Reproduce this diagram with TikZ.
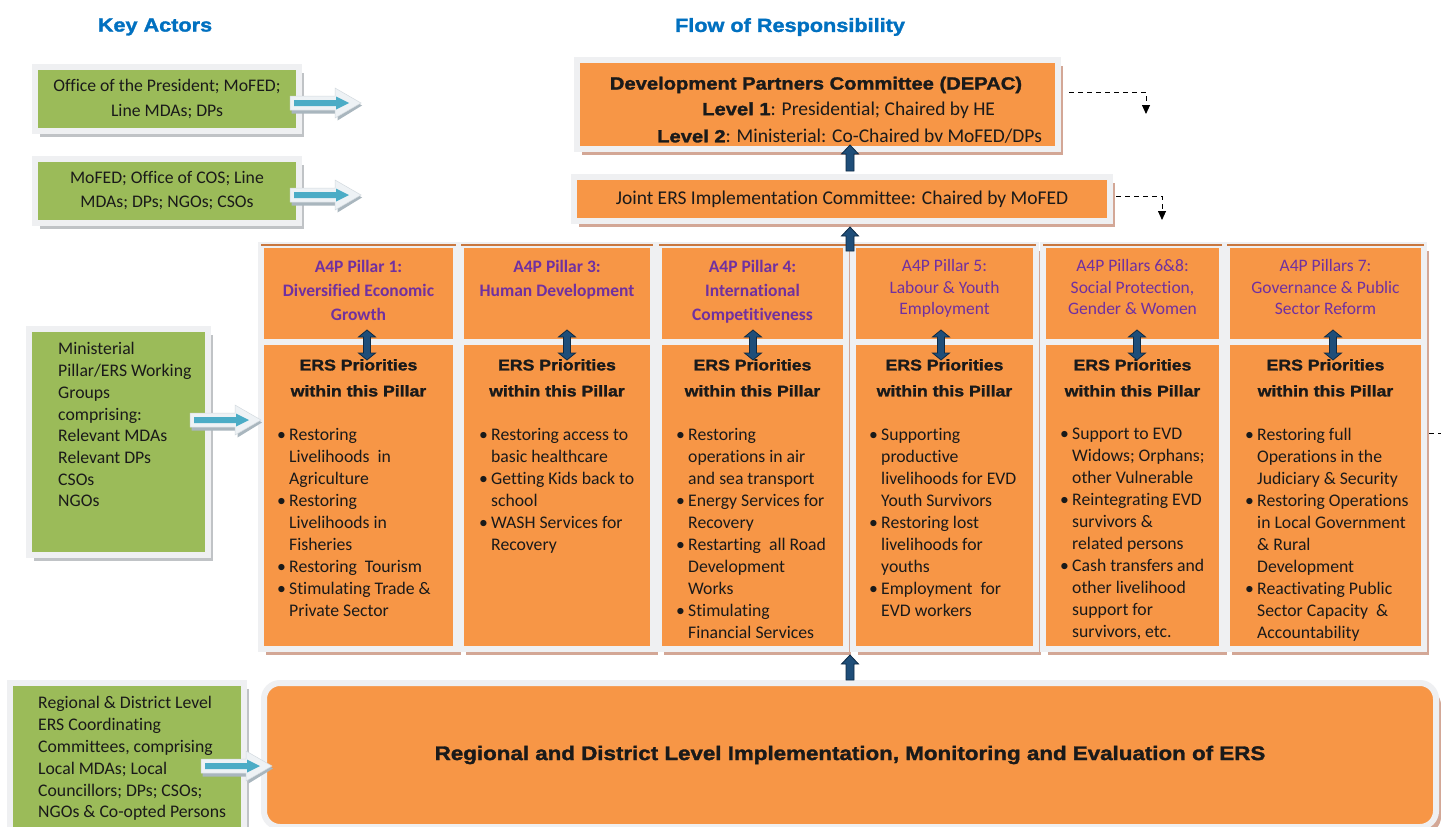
\documentclass[tikz,border=0pt]{standalone}
\usepackage{fontspec}
\setmainfont{Carlito}[Ligatures=NoCommon]
\newfontfamily\blk{Liberation Sans}[FakeStretch=1.14, FakeBold=1.6]
\usetikzlibrary{shadows,arrows.meta,calc}
\definecolor{orng}{HTML}{F79646}
\definecolor{grn}{HTML}{9BBB59}
\definecolor{purp}{HTML}{7030A0}
\definecolor{ttl}{HTML}{0070C0}
\definecolor{arrblue}{HTML}{1F4E79}
\definecolor{arrline}{HTML}{0D2A45}
\definecolor{cyanarr}{HTML}{4BACC6}
\definecolor{actwhite}{HTML}{EEF2F5}
\definecolor{actedge}{HTML}{D3DADF}
\definecolor{actshd}{HTML}{A9B6BE}
\definecolor{frm}{HTML}{EFF0F2}
\definecolor{tanshd}{HTML}{D3A796}
\definecolor{grayshd}{HTML}{C0C3C6}
\definecolor{topbrn}{HTML}{C8773F}
\definecolor{txtc}{HTML}{1A1A1A}
\newcommand\bi{\makebox[12pt][l]{\textbullet}}
\newcommand\ci{\hspace*{12pt}}
\tikzset{
  framebox/.style={rectangle, draw=frm, line width=6pt, inner sep=0pt},
  obox/.style={framebox, fill=orng, general shadow={fill=tanshd, shadow xshift=5pt, shadow yshift=-6pt}},
  gbox/.style={framebox, fill=grn, general shadow={fill=grayshd, shadow xshift=5pt, shadow yshift=-6pt}},
  bodytxt/.style={inner sep=0pt, text=txtc, font=\fontsize{17.7}{22}\selectfont, align=left, anchor=north west},
  hdrb/.style={inner sep=0pt, text=purp, font=\bfseries\fontsize{17.5}{24}\selectfont, align=center, anchor=north},
  hdrr/.style={inner sep=0pt, text=purp, font=\fontsize{17.5}{21.5}\selectfont, align=center, anchor=north},
  erst/.style={inner sep=0pt, text=txtc, font=\blk\bfseries\fontsize{15.5}{26}\selectfont, align=center, anchor=north},
  titletxt/.style={inner sep=0pt, text=ttl, font=\blk\bfseries\fontsize{19}{22}\selectfont},
  dashconn/.style={draw=black, line width=0.9pt, dash pattern=on 5pt off 4pt, -{Triangle[width=8pt,length=9pt]}},
  topln/.style={draw=topbrn, line width=2pt},
  arrstyle/.style={fill=arrblue, draw=arrline, line width=0.8pt},
  pics/uparr/.style={code={\filldraw[arrstyle] (-4,0) -- (-4,9-#1) -- (-8.5,9-#1) -- (0,-#1) -- (8.5,9-#1) -- (4,9-#1) -- (4,0) -- cycle;}},
  pics/dblarr/.style={code={\filldraw[arrstyle] (0,-15) -- (8.5,-8) -- (3.5,-8) -- (3.5,8) -- (8.5,8) -- (0,15) -- (-8.5,8) -- (-3.5,8) -- (-3.5,-8) -- (-8.5,-8) -- cycle;}},
  pics/actarr/.style={code={
    \fill[actshd] (1.5,-4.5) -- (47.5,-4.5) -- (47.5,-12.5) -- (72,2.5) -- (47.5,17.5) -- (47.5,10.5) -- (1.5,10.5) -- cycle;
    \filldraw[fill=actwhite, draw=actedge, line width=0.5pt] (0,-7) -- (45,-7) -- (45,-15) -- (71,0) -- (45,15) -- (45,7) -- (0,7) -- cycle;
    \fill[cyanarr] (4,-3) -- (46,-3) -- (46,-6.5) -- (59,0) -- (46,6.5) -- (46,3) -- (4,3) -- cycle;}}
}
\begin{document}
\begin{tikzpicture}[x=1pt,y=-1pt]
\useasboundingbox (0,0) rectangle (1441,827);
\fill[white] (0,0) rectangle (1441,827);

% titles
\node[titletxt] (tka) at (155,27) {Key Actors};
\node[titletxt] (tfr) at (790,27) {Flow of Responsibility};

% key actors (green)
\node[gbox, minimum width=264, minimum height=64, align=center, text=txtc, font=\fontsize{17.7}{24.5}\selectfont] (g1) at (167,99) {Office of the President; MoFED;\\Line MDAs; DPs};
\node[gbox, minimum width=264, minimum height=64, align=center, text=txtc, font=\fontsize{17.7}{24}\selectfont] (g2) at (167,191) {MoFED; Office of COS; Line\\MDAs; DPs; NGOs; CSOs};
\node[gbox, minimum width=179, minimum height=226] (g3) at (118.5,442) {};
\node[bodytxt, font=\fontsize{17.7}{21.7}\selectfont] (g3t) at (58,342.5) {Ministerial\\Pillar/ERS Working\\Groups\\comprising:\\Relevant MDAs\\Relevant DPs\\CSOs\\NGOs};
\node[gbox, minimum width=234, minimum height=160] (g4) at (127,763) {};
\node[bodytxt, font=\fontsize{17.7}{21.8}\selectfont] (g4t) at (38,696.5) {Regional \& District Level\\ERS Coordinating\\Committees, comprising\\Local MDAs; Local\\Councillors; DPs; CSOs;\\NGOs \& Co-opted Persons};

% committees
\node[obox, minimum width=481, minimum height=89] (dep) at (817.5,104.5) {};
\node[inner sep=0pt, text=txtc, font=\blk\bfseries\fontsize{17.7}{20}\selectfont] (dep1) at (816,85) {Development Partners Committee (DEPAC)};
\node[inner sep=0pt, anchor=west, text=txtc, font=\fontsize{19.5}{22}\selectfont] (dep2) at (702,110) {{\blk\bfseries\fontsize{17.7}{20}\selectfont Level 1}: Presidential; Chaired by HE};
\node[inner sep=0pt, anchor=west, text=txtc, font=\fontsize{19.5}{22}\selectfont] (dep3) at (657,136) {{\blk\bfseries\fontsize{17.7}{20}\selectfont Level 2}: Ministerial: Co-Chaired bv MoFED/DPs};
\node[obox, minimum width=536, minimum height=44, text=txtc, font=\fontsize{19.5}{22}\selectfont] (jic) at (842,199) {Joint ERS Implementation Committee: Chaired by MoFED};

% pillars
\foreach \i/\cx/\w in {1/358.5/195, 2/557/192, 3/752.5/187, 4/944.5/183, 5/1132.5/179, 6/1325.5/197}{
  \node[obox, minimum width=\w, minimum height=98] (h\i) at (\cx,294) {};
  \node[obox, minimum width=\w, minimum height=307] (b\i) at (\cx,495.5) {};
  \draw[topln] ($(h\i.north west)+(3,3)$) -- ($(h\i.north east)+(-3,3)$);
  \node[erst] (e\i) at (\cx,359) {ERS Priorities\\within this Pillar};
}
\node[hdrb] (ht1) at (358.5,260.5) {A4P Pillar 1:\\Diversified Economic\\Growth};
\node[hdrb] (ht2) at (557,260.5) {A4P Pillar 3:\\Human Development};
\node[hdrb] (ht3) at (752.5,260.5) {A4P Pillar 4:\\International\\Competitiveness};
\node[hdrr] (ht4) at (944.5,259.5) {A4P Pillar 5:\\Labour \& Youth\\Employment};
\node[hdrr] (ht5) at (1132.5,259.5) {A4P Pillars 6\&8:\\Social Protection,\\Gender \& Women};
\node[hdrr] (ht6) at (1325.5,259.5) {A4P Pillars 7:\\Governance \& Public\\Sector Reform};

\node[bodytxt] (l1) at (277,428) {\bi Restoring\\\ci Livelihoods\ \ in\\\ci Agriculture\\\bi Restoring\\\ci Livelihoods in\\\ci Fisheries\\\bi Restoring\ \ Tourism\\\bi Stimulating Trade \&\\\ci Private Sector};
\node[bodytxt] (l2) at (479,428) {\bi Restoring access to\\\ci basic healthcare\\\bi Getting Kids back to\\\ci school\\\bi WASH Services for\\\ci Recovery};
\node[bodytxt] (l3) at (676,428) {\bi Restoring\\\ci operations in air\\\ci and sea transport\\\bi Energy Services for\\\ci Recovery\\\bi Restarting\ \ all Road\\\ci Development\\\ci Works\\\bi Stimulating\\\ci Financial Services};
\node[bodytxt] (l4) at (869,428) {\bi Supporting\\\ci productive\\\ci livelihoods for EVD\\\ci Youth Survivors\\\bi Restoring lost\\\ci livelihoods for\\\ci youths\\\bi Employment\ \ for\\\ci EVD workers};
\node[bodytxt] (l5) at (1060,428) {\bi Support to EVD\\\ci Widows; Orphans;\\\ci other Vulnerable\\\bi Reintegrating EVD\\\ci survivors \&\\\ci related persons\\\bi Cash transfers and\\\ci other livelihood\\\ci support for\\\ci survivors, etc.};
\node[bodytxt] (l6) at (1245,428) {\bi Restoring full\\\ci Operations in the\\\ci Judiciary \& Security\\\bi Restoring Operations\\\ci in Local Government\\\ci \& Rural\\\ci Development\\\bi Reactivating Public\\\ci Sector Capacity\ \ \&\\\ci Accountability};

% bottom box
\node[obox, rounded corners=16pt, minimum width=1172, minimum height=144, text=txtc, font=\blk\bfseries\fontsize{19.6}{22}\selectfont] (reg) at (850,755) {Regional and District Level Implementation, Monitoring and Evaluation of ERS};

% actor arrows
\path ($(g1.east)+(-12,4)$) pic {actarr};
\path ($(g2.east)+(-12,4)$) pic {actarr};
\path ($(g3.east)+(-21,-22)$) pic {actarr};
\path ($(g4.east)+(-46,3)$) pic {actarr};

% flow arrows
\path ($(jic.north)+(8,-3)$) pic {uparr=26};
\path ($(jic.south)+(8,27)$) pic {uparr=24};
\path ($(reg.north)+(0,0)$) pic {uparr=25};
\path ($(h1.south)+(8.5,-1)$) pic {dblarr};
\path ($(h2.south)+(10,-1)$) pic {dblarr};
\path ($(h3.south)+(0.5,-1)$) pic {dblarr};
\path ($(h4.south)+(-3.5,-1)$) pic {dblarr};
\path ($(h5.south)+(4.5,-1)$) pic {dblarr};
\path ($(h6.south)+(7.5,-1)$) pic {dblarr};

% dashed connectors
\coordinate (dt1) at (1146,114);
\coordinate (dt2) at (1162,220);
\draw[dashconn] ($(dep.east)+(8,-12.5)$) -| (dt1);
\draw[dashconn] ($(jic.east)+(3,-3)$) -| (dt2);
\draw[dashconn,-] ($(b6.east)+(2,-62.5)$) -- ++(16,0);
\end{tikzpicture}
\end{document}
